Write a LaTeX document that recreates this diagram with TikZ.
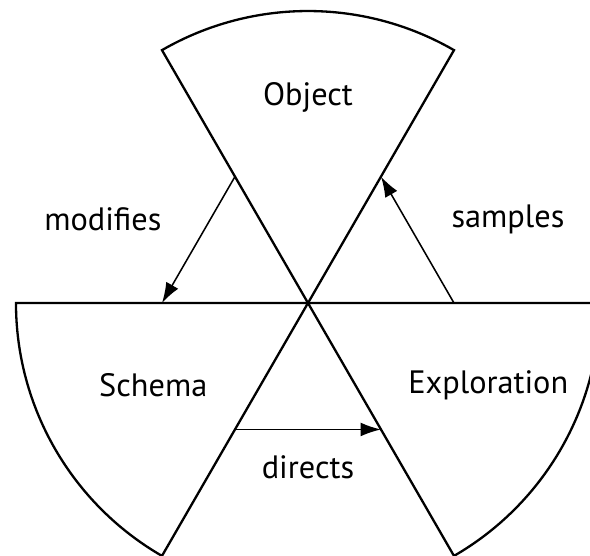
\documentclass[tikz,border=0pt]{standalone}
\usepackage{fontspec}
\setmainfont{PT Sans}
\usetikzlibrary{arrows.meta}
\begin{document}
\begin{tikzpicture}[font=\fontsize{12.6}{15}\selectfont,
  sector/.style={line width=0.9pt,fill=white},
  flow/.style={line width=0.6pt,-{Latex[length=2.8mm,width=1.9mm]}}]
  \clip (-4.219,-3.452) rectangle (3.863,4.151);
  \draw[sector] (0,0)--(60:4) arc[start angle=60,end angle=120,radius=4]--cycle;
  \draw[sector] (0,0)--(180:4) arc[start angle=180,end angle=240,radius=4]--cycle;
  \draw[sector] (0,0)--(300:4) arc[start angle=300,end angle=360,radius=4]--cycle;
  \node (object) at (0,2.82) {Object};
  \node (schema) at (-2.12,-1.12) {Schema};
  \node (exploration) at (2.47,-1.12) {Exploration};
  \node (modifies) at (-2.81,1.15) {modifies};
  \node (samples) at (2.74,1.15) {samples};
  \node (directs) at (0,-2.25) {directs};
  \coordinate (o1) at (120:2);
  \coordinate (o2) at (60:2);
  \coordinate (s1) at (180:2);
  \coordinate (s2) at (240:2);
  \coordinate (e1) at (300:2);
  \coordinate (e2) at (0:2);
  \draw[flow] (o1)--(s1);
  \draw[flow] (e2)--(o2);
  \draw[flow] (s2)--(e1);
\end{tikzpicture}
\end{document}
